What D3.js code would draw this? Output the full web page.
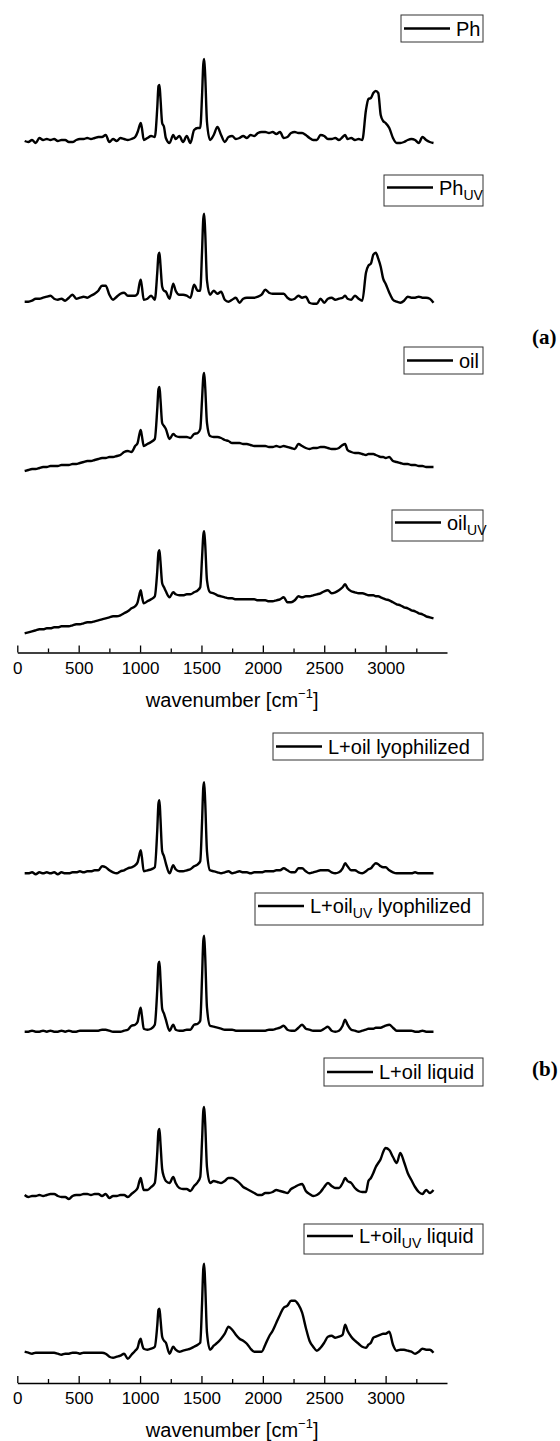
<!DOCTYPE html>
<html>
<head>
<meta charset="utf-8">
<script src="https://cdn.jsdelivr.net/npm/d3@7"></script>
<style>
  body { margin: 0; background: #fff; }
  svg { display: block; font-family: "Liberation Sans", Arial, sans-serif; }
</style>
</head>
<body>
<svg width="560" height="1441"></svg>
<script>

// wavenumber grid shared by all spectra (denser round the sharp bands)
const wavenumbers = [
  60, 90, 120, 150, 180, 210, 240, 270, 300, 330,
  360, 390, 420, 450, 480, 510, 540, 570, 600, 630,
  660, 690, 720, 750, 780, 810, 840, 870, 900, 930,
  960, 980, 995, 1005, 1015, 1030, 1060, 1090, 1120, 1140,
  1150, 1158, 1166, 1180, 1195, 1210, 1240, 1270, 1290, 1320,
  1350, 1380, 1410, 1440, 1470, 1490, 1505, 1515, 1522, 1530,
  1545, 1570, 1600, 1630, 1660, 1690, 1720, 1750, 1780, 1810,
  1840, 1870, 1900, 1930, 1960, 1990, 2020, 2050, 2080, 2110,
  2140, 2170, 2200, 2230, 2260, 2290, 2320, 2350, 2380, 2410,
  2440, 2470, 2500, 2530, 2560, 2590, 2620, 2650, 2670, 2690,
  2720, 2750, 2780, 2810, 2840, 2860, 2880, 2900, 2920, 2940,
  2960, 2980, 3000, 3030, 3060, 3090, 3120, 3150, 3180, 3210,
  3240, 3270, 3300, 3330, 3360, 3390
]

// intensities (a.u.)
const ph = [
  -1, -2, 0, -3, 2, 0, 1, 0, 1, -1,
  0, 0, -2, -2, 0, 1, 1, 2, 1, 2,
  3, 3, 5, -2, 1, -1, 2, 1, 0, 1,
  3, 8, 14, 17, 12, 0, 2, 4, 3, 32,
  54, 55, 42, 17, 13, 2, -3, 5, 1, 4,
  -2, 4, -3, 10, 12, 12, 45, 76, 81, 66,
  18, 0, 5, 13, 5, -2, 3, 4, 1, 2,
  4, 2, 5, 4, 7, 8, 8, 7, 8, 6,
  8, 2, 3, 7, 8, 7, 7, 5, 2, 0,
  0, 5, 4, 1, 1, 2, 0, 3, 5, 1,
  2, 0, 1, 0, 30, 41, 42, 47, 49, 47,
  25, 19, 17, 12, 2, -3, -3, -2, 0, 1,
  0, -3, 3, 0, -2, -3
]

const phUV = [
  -1, -1, 0, 2, 2, 3, 4, 5, 2, 1,
  2, 0, 3, 6, 2, 3, 4, 3, 5, 7,
  10, 15, 15, 6, 1, 4, 7, 8, 5, 5,
  5, 7, 17, 21, 14, 1, 2, 5, 1, 28,
  46, 48, 36, 14, 10, 9, 2, 17, 10, 6,
  6, 5, 3, 16, 10, 10, 50, 82, 87, 70,
  20, 6, 10, 7, 9, 1, -1, 1, 3, -2,
  2, 3, 3, 3, 4, 6, 11, 8, 7, 7,
  7, 7, 3, 1, 2, 5, 3, 4, -2, -3,
  -3, 2, -2, 2, 3, 1, 2, 3, 5, 2,
  1, 5, 2, 0, 28, 35, 37, 46, 48, 42,
  34, 22, 17, 8, 1, -1, -2, 0, 4, 3,
  3, 4, 3, 3, 2, -2
]

const oil = [
  0, 1, 2, 2, 3, 4, 4, 5, 5, 5,
  6, 6, 6, 7, 7, 8, 9, 10, 10, 11,
  12, 13, 13, 14, 14, 15, 16, 19, 20, 19,
  25, 28, 37, 41, 35, 25, 27, 29, 32, 62,
  82, 84, 72, 48, 45, 42, 32, 37, 35, 34,
  34, 34, 33, 37, 38, 42, 72, 94, 98, 85,
  48, 35, 34, 34, 33, 31, 30, 28, 28, 28,
  27, 27, 26, 25, 25, 25, 25, 24, 24, 25,
  24, 25, 24, 23, 22, 27, 25, 23, 22, 23,
  23, 24, 24, 23, 22, 22, 23, 26, 27, 21,
  19, 18, 18, 17, 16, 17, 17, 17, 16, 15,
  14, 14, 13, 14, 10, 9, 8, 7, 7, 6,
  6, 5, 5, 4, 4, 4
]

const oilUV = [
  0, 1, 2, 3, 4, 4, 5, 5, 6, 6,
  7, 7, 7, 8, 9, 9, 10, 11, 11, 12,
  13, 14, 15, 16, 17, 17, 18, 20, 22, 25,
  27, 31, 39, 43, 37, 30, 32, 34, 37, 62,
  81, 83, 72, 50, 46, 42, 36, 41, 39, 38,
  38, 39, 39, 41, 43, 46, 76, 98, 102, 90,
  53, 41, 40, 38, 37, 36, 35, 35, 34, 34,
  34, 34, 34, 34, 33, 33, 33, 32, 32, 33,
  34, 36, 31, 31, 33, 37, 36, 37, 37, 38,
  39, 40, 42, 43, 40, 41, 43, 46, 49, 45,
  42, 41, 40, 40, 39, 38, 38, 38, 37, 37,
  36, 35, 34, 33, 31, 29, 28, 26, 25, 23,
  22, 20, 19, 17, 16, 15
]

const lOilLyo = [
  0, 0, 1, -1, 1, 0, 1, 0, 1, -1,
  1, 0, 0, 1, 1, 2, 1, 2, 2, 3,
  3, 7, 6, 3, 1, 0, 2, 3, 5, 6,
  8, 11, 19, 23, 16, 2, 3, 4, 6, 43,
  70, 73, 55, 22, 17, 10, 0, 8, 4, 2,
  2, 3, 4, 7, 9, 12, 52, 86, 91, 73,
  22, 3, 2, 1, 0, 1, 2, 0, 1, 2,
  1, 1, 0, 1, 1, 1, 2, 2, 2, 3,
  3, 5, 3, 1, 1, 5, 5, 2, 0, 1,
  2, 3, 3, 3, 1, 0, 1, 5, 10, 7,
  3, 3, 1, 0, 2, 4, 5, 8, 10, 9,
  7, 6, 6, 3, 1, 0, 0, 0, 0, 0,
  1, 0, 0, 0, 0, 0
]

const lOilUVLyo = [
  0, 0, 1, 0, 0, 1, 0, 1, 0, 0,
  1, 0, 1, 0, 0, 1, 1, 1, 1, 1,
  1, 2, 2, 1, 0, 0, 0, 1, 2, 6,
  7, 10, 20, 24, 16, 3, 2, 3, 7, 42,
  68, 70, 53, 23, 18, 12, 1, 7, 2, 1,
  1, 2, 2, 7, 8, 11, 55, 91, 96, 77,
  24, 6, 5, 4, 3, 2, 2, 2, 1, 1,
  1, 1, 1, 1, 1, 1, 1, 2, 2, 3,
  4, 6, 2, 1, 1, 4, 7, 3, 2, 1,
  1, 1, 3, 5, 1, 0, 1, 6, 12, 7,
  2, 1, 0, 1, 2, 3, 3, 3, 4, 4,
  4, 5, 6, 7, 4, 1, 1, 1, 1, 1,
  0, 0, 1, 0, 0, 0
]

const lOilLiq = [
  0, -2, -1, -1, 0, -1, 0, 1, 1, -1,
  -2, -2, -4, -1, 0, 0, 1, 1, 0, 1,
  1, -1, 1, -3, -1, -1, 0, 0, -2, 1,
  4, 7, 14, 17, 12, 5, 5, 8, 12, 42,
  64, 66, 52, 26, 18, 14, 12, 18, 12, 7,
  6, 6, 4, 9, 13, 18, 55, 84, 88, 73,
  28, 12, 14, 13, 12, 14, 17, 17, 15, 12,
  8, 6, 4, 2, 0, 0, 2, 2, 3, 5,
  4, 3, 2, 6, 8, 10, 11, 4, 1, -1,
  0, 3, 8, 12, 9, 7, 7, 12, 17, 14,
  12, 7, 4, 3, 3, 14, 17, 22, 28, 32,
  36, 43, 47, 45, 38, 32, 42, 33, 22, 15,
  8, 3, 1, 5, 2, 5
]

const lOilUVLiq = [
  1, 0, -1, 0, 0, 0, 0, 0, 0, -1,
  -2, -1, -1, 0, 0, -1, 0, 0, 0, 0,
  0, 0, -1, -4, -5, -4, -3, -1, -6, -2,
  2, 5, 12, 14, 9, 4, 3, 4, 6, 27,
  43, 44, 34, 16, 12, 10, -1, 6, 3, 1,
  2, 3, 4, 6, 8, 10, 50, 84, 89, 70,
  20, 3, 7, 10, 14, 19, 26, 23, 18, 14,
  12, 9, 4, 1, 1, 1, 8, 16, 22, 30,
  38, 45, 47, 52, 52, 48, 40, 25, 12, 6,
  2, 5, 10, 16, 17, 15, 16, 18, 28, 22,
  16, 12, 9, 6, 5, 8, 10, 15, 16, 17,
  18, 19, 19, 21, 8, 2, 3, 3, 2, 1,
  -1, 1, 4, 3, 3, 0
]

const seriesValues = [ph, phUV, oil, oilUV, lOilLyo, lOilUVLyo, lOilLiq, lOilUVLiq]

// legend texts: [main, subscript, rest]
const legendLabels = [
  ['Ph', '', ''], ['Ph', 'UV', ''], ['oil', '', ''], ['oil', 'UV', ''],
  ['L+oil lyophilized', '', ''], ['L+oil', 'UV', ' lyophilized'],
  ['L+oil liquid', '', ''], ['L+oil', 'UV', ' liquid']
]

const majorTicks = [0, 500, 1000, 1500, 2000, 2500, 3000]
const minorTicks = [250, 750, 1250, 1750, 2250, 2750, 3250]
const panelLabels = ['(a)', '(b)']
const axisTitle = 'wavenumber [cm'


// ---- layout (pixels) ----
const baseY = [140, 300.7, 471, 633.3, 873.3, 1031.7, 1195, 1352.7]   // zero line of each trace
const legendBox = [  // left, top, bottom
  [401, 15, 42], [384, 175, 206], [404, 347, 374], [392, 510, 541],
  [273, 733, 760], [255, 893, 925], [324, 1058, 1086], [304, 1224, 1254]
]
const legendRight = 483
const axisY = [652.5, 1383]
const panelLabelPos = [[532, 344], [532, 1076]]


const svg = d3.select('svg')

const x = d3.scaleLinear()
    .domain([0, 3500])
    .range([17.3, 447])

const line = d3.line()
    .x(d => x(d[0]))
    .y(d => d[1])
    .curve(d3.curveMonotoneX)

// draw each spectrum
seriesValues.forEach((vals, i) => {
    const y = d3.scaleLinear()
        .domain([0, 100])
        .range([baseY[i], baseY[i] - 100])

    const pts = wavenumbers.map((w, j) => [w, y(vals[j])])

    svg.append('path')
        .attr('d', line(pts))
        .attr('fill', 'none')
        .attr('stroke', '#000')
        .attr('stroke-width', 2.4)
        .attr('stroke-linejoin', 'round')
})

// legends
legendLabels.forEach((lab, i) => {
    const [left, top, bottom] = legendBox[i]
    const g = svg.append('g')
    const mid = (top + bottom) / 2

    g.append('rect')
        .attr('x', left).attr('y', top)
        .attr('width', legendRight - left).attr('height', bottom - top)
        .attr('fill', '#fff')
        .attr('stroke', '#333')
        .attr('stroke-width', 1)

    const ly = lab[1] ? mid - 3 : mid
    g.append('line')
        .attr('x1', left + 3).attr('x2', left + 49)
        .attr('y1', ly).attr('y2', ly)
        .attr('stroke', '#000')
        .attr('stroke-width', 2.5)

    const t = g.append('text')
        .attr('x', left + 55)
        .attr('y', ly + 7)
        .attr('font-size', 20)
        .attr('fill', '#000')
    t.append('tspan').text(lab[0])
    if (lab[1]) {
        t.append('tspan').attr('font-size', 14).attr('dy', 5).text(lab[1])
        if (lab[2]) t.append('tspan').attr('dy', -5).text(lab[2])
    }
})

// x axes, one per panel
axisY.forEach(ay => {
    const gx = svg.append('g')
        .attr('transform', `translate(0, ${ay})`)
        .call(
            d3.axisBottom(x).tickValues(majorTicks).tickFormat(d3.format('d'))
              .tickSize(-7).tickSizeOuter(0).tickPadding(9)
        )
    gx.select('.domain').attr('stroke-width', 1.3)
    gx.selectAll('.tick line').attr('stroke-width', 1.3)
    gx.selectAll('.tick text')
        .attr('font-size', 17)
        .attr('font-family', '"Liberation Sans", Arial, sans-serif')
        .attr('fill', '#000')

    const gm = svg.append('g')
        .attr('transform', `translate(0, ${ay})`)
        .call(
            d3.axisBottom(x).tickValues(minorTicks).tickSize(-4).tickSizeOuter(0).tickFormat('')
        )
    gm.select('.domain').remove()
    gm.selectAll('.tick line').attr('stroke-width', 1.3)

    const title = svg.append('text')
        .attr('x', (x.range()[0] + x.range()[1]) / 2)
        .attr('y', ay + 54)
        .attr('text-anchor', 'middle')
        .attr('font-size', 20)
        .attr('fill', '#000')
    title.append('tspan').text(axisTitle)
    title.append('tspan').attr('font-size', 13).attr('dy', -9).text('\u22121')
    title.append('tspan').attr('dy', 9).text(']')
})

// panel letters
panelLabels.forEach((p, i) => {
    svg.append('text')
        .attr('x', panelLabelPos[i][0])
        .attr('y', panelLabelPos[i][1])
        .attr('font-family', '"Liberation Serif", "Times New Roman", serif')
        .attr('font-weight', 'bold')
        .attr('font-size', 21)
        .attr('fill', '#000')
        .text(p)
})

</script>
</body>
</html>
